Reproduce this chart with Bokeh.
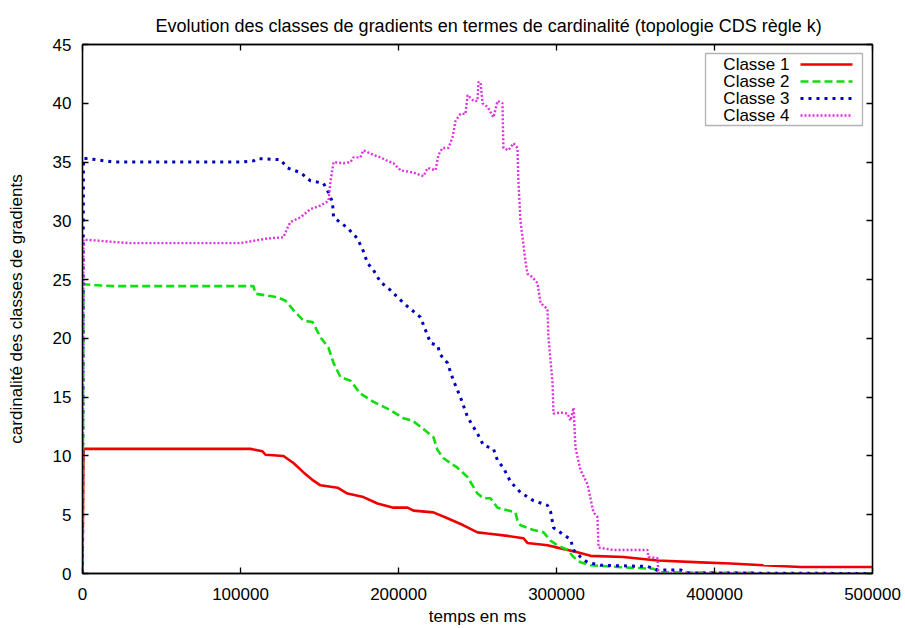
from bokeh.plotting import figure
from bokeh.models import (Range1d, LinearAxis, FixedTicker, Label, Arrow, BoxAnnotation,
                          BasicTickFormatter, CustomJSTickFormatter)
from bokeh.embed import file_html
from bokeh.resources import INLINE

TITLE = "Evolution des classes de gradients en termes de cardinalité (topologie CDS règle k)"
XLABEL = "temps en ms"
YLABEL = "cardinalité des classes de gradients"
X_TICKS = [0, 100000, 200000, 300000, 400000, 500000]
Y_TICKS = [0, 5, 10, 15, 20, 25, 30, 35, 40, 45]
NAMES = ["Classe 1", "Classe 2", "Classe 3", "Classe 4"]

c1_t = [0, 600, 106300, 113900, 115800, 127200, 133500, 139900, 146200, 150600, 161400,
        167700, 177800, 186700, 196800, 205700, 209500, 222100, 231000, 241100, 250000,
        256300, 269000, 279100, 281600, 294300, 300600, 313300, 321500, 342400, 363900,
        391100, 410100, 431000, 454400, 500000]
c1_v = [0, 10.6, 10.6, 10.4, 10.1, 10.0, 9.4, 8.6, 7.9, 7.5, 7.3,
        6.8, 6.5, 5.95, 5.6, 5.6, 5.35, 5.2, 4.7, 4.1, 3.5,
        3.4, 3.2, 3.0, 2.6, 2.4, 2.2, 1.8, 1.5, 1.4, 1.1,
        0.95, 0.85, 0.7, 0.55, 0.55]

c2_t = [0, 600, 11400, 19600, 108200, 109500, 123400, 128500, 133500, 139900, 145600,
        150600, 155700, 158900, 163300, 169600, 175900, 184200, 194900, 203200, 208900,
        215800, 222100, 224700, 228500, 237300, 243700, 250000, 253800, 258200, 262700,
        274000, 275300, 277200, 285400, 291800, 296200, 300600, 307000, 310800, 315200,
        321500, 338600, 361400, 365800, 424700, 429100, 500000]
c2_v = [0, 24.6, 24.5, 24.45, 24.45, 23.8, 23.5, 23.2, 22.4, 21.5, 21.4,
        20.1, 19.2, 17.9, 16.7, 16.4, 15.3, 14.6, 13.9, 13.2, 13.0,
        12.3, 11.6, 10.5, 9.8, 9.0, 8.2, 6.8, 6.4, 6.4, 5.6,
        5.2, 4.5, 4.1, 3.7, 3.5, 2.8, 2.4, 2.0, 1.4, 0.95,
        0.7, 0.55, 0.4, 0.1, 0.05, 0, 0]

c3_t = [0, 600, 3200, 19600, 100000, 108200, 110800, 125300, 129700, 138000, 144300,
        152500, 155700, 158200, 158900, 167700, 174000, 177800, 180400, 184200, 188600,
        194900, 203200, 213900, 217100, 220300, 224700, 226600, 231000, 234800, 239200,
        243700, 250000, 253800, 260100, 262700, 266400, 270900, 277200, 285400, 294300,
        296200, 298100, 304400, 308900, 310800, 315200, 319600, 327800, 357600, 363900,
        378500, 382900, 500000]
c3_v = [0, 35.3, 35.3, 35.0, 35.0, 35.1, 35.3, 35.2, 34.5, 34.1, 33.4,
        33.2, 32.4, 31.6, 30.3, 29.4, 28.5, 27.4, 26.4, 25.8, 24.8,
        24.1, 23.0, 21.8, 20.7, 19.6, 19.4, 18.6, 17.9, 16.4, 15.0,
        13.3, 11.9, 10.9, 10.6, 9.6, 9.0, 7.8, 6.9, 6.2, 5.8,
        5.3, 3.9, 3.3, 2.9, 2.0, 1.4, 0.95, 0.7, 0.6, 0.3,
        0.3, 0.05, 0]

c4_t = [0, 600, 11400, 19600, 30400, 100000, 108200, 117100, 127200, 129700, 131600,
        138000, 144300, 150600, 155700, 157000, 158900, 165200, 169600, 171500, 175900,
        177800, 184200, 188600, 193000, 196800, 201300, 209500, 215800, 218400, 223400,
        225300, 227800, 231600, 234200, 236100, 239200, 242400, 243700, 247500, 250000,
        250600, 251900, 253200, 256300, 260100, 262700, 265800, 266400, 269600, 272800,
        275300, 275900, 277200, 278500, 280300, 281600, 284800, 288000, 289900, 294300,
        294900, 297500, 298100, 302500, 307000, 308900, 310800, 312000, 315200, 319600,
        323400, 325900, 326600, 336100, 357600, 358200, 363900, 364500, 500000]
c4_v = [0, 28.4, 28.3, 28.2, 28.1, 28.1, 28.3, 28.5, 28.6, 29.4, 29.9,
        30.3, 31.0, 31.3, 31.7, 33.4, 35.0, 34.9, 35.0, 35.4, 35.4,
        36.0, 35.6, 35.4, 35.1, 34.9, 34.3, 34.1, 33.8, 34.5, 34.3,
        35.6, 36.2, 36.2, 37.1, 38.5, 39.1, 39.1, 40.7, 40.2, 40.2,
        41.8, 41.8, 40.0, 39.7, 38.8, 40.2, 40.0, 36.2, 36.0, 36.6,
        36.2, 33.4, 30.0, 28.6, 26.6, 25.5, 25.2, 24.7, 23.0, 22.5,
        20.1, 16.2, 13.6, 13.7, 13.6, 13.0, 14.1, 10.7, 8.8, 7.6,
        5.2, 4.8, 2.2, 2.0, 2.0, 1.4, 1.3, 0, 0]

SERIES = [(c1_t, c1_v), (c2_t, c2_v), (c3_t, c3_v), (c4_t, c4_v)]
COLORS = ["#ee0000", "#11dd11", "#0000c0", "#e030e0"]
DASHES = ["solid", "8 4", "3 5", "2 2"]
WIDTHS = [2.6, 2.6, 3.0, 2.4]

FONT = "Liberation Sans"
W, H = 905, 628
FL, FT, FB = 82, 44, 573   # frame left/top/bottom in canvas pixels


def sx(cx):
    return cx - FL


def sy(cy):
    return FB - cy


p = figure(width=W, height=H, output_backend="svg", toolbar_location=None,
           x_range=Range1d(0, 500000), y_range=Range1d(0, 45),
           min_border_left=82, min_border_right=33, min_border_top=44, min_border_bottom=55)
p.title.text = TITLE
p.title.align = "left"
p.title.offset = 73
p.title.text_font = FONT
p.title.text_font_size = "18px"
p.title.text_font_style = "normal"
p.title.text_color = "black"
p.title.standoff = 18
p.grid.visible = False
p.background_fill_color = "white"
p.border_fill_color = "white"
p.outline_line_color = "black"
p.outline_line_width = 1.3

for ax in [p.xaxis[0], p.yaxis[0]]:
    ax.major_tick_in = 6
    ax.major_tick_out = 0
    ax.minor_tick_line_color = None
    ax.axis_line_color = "black"
    ax.axis_line_width = 1.3
    ax.major_tick_line_width = 1.3
    ax.major_label_text_font = FONT
    ax.major_label_text_font_size = "17px"
    ax.major_label_text_color = "black"
    ax.axis_label_text_font = FONT
    ax.axis_label_text_font_size = "17px"
    ax.axis_label_text_font_style = "normal"
    ax.axis_label_text_color = "black"

p.xaxis[0].ticker = FixedTicker(ticks=X_TICKS)
p.yaxis[0].ticker = FixedTicker(ticks=Y_TICKS)
p.xaxis[0].formatter = BasicTickFormatter(use_scientific=False)
p.yaxis[0].formatter = BasicTickFormatter(use_scientific=False)
p.xaxis[0].axis_label = XLABEL
p.yaxis[0].axis_label = YLABEL
p.xaxis[0].major_label_standoff = 14
p.yaxis[0].major_label_standoff = 11
p.xaxis[0].axis_label_standoff = 4
p.yaxis[0].axis_label_standoff = 24

blank = CustomJSTickFormatter(code="return '';")
top = LinearAxis(ticker=FixedTicker(ticks=X_TICKS), formatter=blank,
                 major_tick_in=6, major_tick_out=0, minor_tick_line_color=None,
                 major_label_standoff=0,
                 axis_line_width=1.3, major_tick_line_width=1.3)
right = LinearAxis(ticker=FixedTicker(ticks=Y_TICKS), formatter=blank,
                   major_tick_in=6, major_tick_out=0, minor_tick_line_color=None,
                   major_label_standoff=0,
                   axis_line_width=1.3, major_tick_line_width=1.3)
p.add_layout(top, "above")
p.add_layout(right, "right")

for (t, v), c, d, w in zip(SERIES, COLORS, DASHES, WIDTHS):
    p.line(t, v, line_color=c, line_dash=d, line_width=w)

# manual gnuplot-style legend (text then sample); screen units are frame-relative
p.add_layout(BoxAnnotation(left=sx(705), right=sx(862), top=sy(53), bottom=sy(125),
                           left_units="screen", right_units="screen",
                           top_units="screen", bottom_units="screen",
                           fill_color="white", fill_alpha=1.0, line_color="black", line_width=1.3))
rows = [64, 81, 98, 115]
for name, c, d, w, ry in zip(NAMES, COLORS, DASHES, WIDTHS, rows):
    p.add_layout(Label(x=sx(789), y=sy(ry), x_units="screen", y_units="screen", text=name,
                       text_font=FONT, text_font_size="17px", text_align="right",
                       text_baseline="middle", text_color="black"))
    p.add_layout(Arrow(end=None, x_start=sx(800), y_start=sy(ry), x_end=sx(852), y_end=sy(ry),
                       start_units="screen", end_units="screen",
                       line_color=c, line_dash=d, line_width=w))

open("out.html", "w").write(file_html(p, INLINE))
